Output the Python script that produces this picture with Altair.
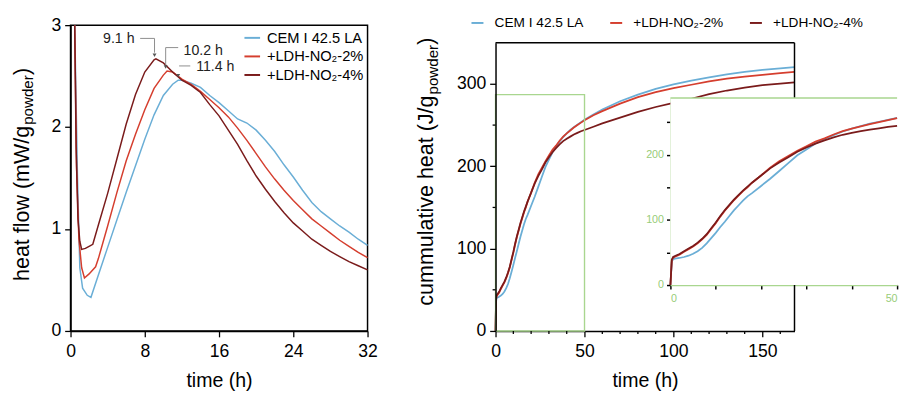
import altair as alt
import pandas as pd

# ---------------- series ----------------
S_CEM = "CEM I 42.5 LA"
S_2 = "+LDH-NO\u2082-2%"
S_4 = "+LDH-NO\u2082-4%"
series_names = [S_CEM, S_2, S_4]
series_colors = ["#6aaed6", "#d53e2e", "#7a1b1b"]
GREEN = "#a9d68f"
GREEN_TXT = "#98cc78"

# ---------------- left panel: heat flow (mW/g) vs time (h) ----------------
hf_t_cem = [0.45, 0.75, 1.0, 1.3, 1.8, 2.2, 3, 4, 5, 6, 7, 8, 9, 10, 11, 11.6, 12, 13, 14, 15, 16,
            17, 18, 19, 20, 21, 22, 23, 24, 25, 26, 27, 28, 29, 30, 31, 32]
hf_v_cem = [3.0, 1.5, 0.62, 0.42, 0.35, 0.33, 0.55, 0.82, 1.09, 1.36, 1.62, 1.88, 2.12, 2.31, 2.42,
            2.46, 2.46, 2.43, 2.39, 2.31, 2.24, 2.16, 2.08, 2.04, 1.97, 1.87, 1.76, 1.63, 1.51, 1.38,
            1.26, 1.17, 1.10, 1.03, 0.97, 0.90, 0.84]
hf_t_2 = [0.45, 0.65, 0.9, 1.2, 1.5, 2.0, 2.7, 3, 4, 5, 6, 7, 8, 9, 10, 10.4, 11, 12, 13, 14, 15, 16,
          17, 18, 19, 20, 21, 22, 23, 24, 25, 26, 27, 28, 29, 30, 31, 32]
hf_v_2 = [3.0, 1.6, 0.9, 0.62, 0.52, 0.56, 0.63, 0.71, 1.03, 1.36, 1.67, 1.93, 2.17, 2.38, 2.51, 2.55,
          2.54, 2.47, 2.42, 2.35, 2.27, 2.19, 2.10, 1.99, 1.87, 1.74, 1.61, 1.49, 1.38, 1.28, 1.19,
          1.10, 1.03, 0.96, 0.89, 0.83, 0.77, 0.72]
hf_t_4 = [0.45, 0.6, 0.8, 1.0, 1.2, 1.6, 2.0, 2.4, 3, 4, 5, 6, 7, 8, 9, 9.2, 10, 11, 12, 13, 14, 15,
          16, 17, 18, 19, 20, 21, 22, 23, 24, 25, 26, 27, 28, 29, 30, 31, 32]
hf_v_4 = [3.0, 1.8, 1.1, 0.88, 0.80, 0.81, 0.83, 0.85, 1.04, 1.35, 1.69, 2.03, 2.32, 2.54, 2.66, 2.67,
          2.63, 2.54, 2.46, 2.41, 2.34, 2.22, 2.11, 1.97, 1.83, 1.67, 1.52, 1.39, 1.27, 1.16, 1.06,
          0.98, 0.90, 0.84, 0.78, 0.73, 0.68, 0.64, 0.60]

# peak annotations
ann_labels = ["9.1 h", "10.2 h", "11.4 h"]
ann_label_t = [5.2, 14.3, 15.6]
ann_label_v = [2.86, 2.745, 2.585]
ann_seg_t1 = [7.5, 9.05, 10.25, 10.25, 11.7]
ann_seg_t2 = [9.05, 9.05, 11.6, 10.25, 12.9]
ann_seg_v1 = [2.87, 2.87, 2.78, 2.78, 2.60]
ann_seg_v2 = [2.87, 2.73, 2.78, 2.61, 2.60]
ann_tip_t = [9.05, 10.25, 11.6]
ann_tip_v = [2.705, 2.59, 2.505]

# ---------------- right panel: cumulative heat (J/g) vs time (h) ----------------
ch_t = [0, 0.3, 0.6, 1, 2, 3, 4, 5, 6, 7, 8, 9, 10, 11, 12, 13, 14, 15, 16, 17, 18, 20, 22, 24, 26,
        28, 30, 32, 34, 36, 38, 40, 42, 44, 46, 48, 50, 55, 60, 70, 80, 90, 100, 110, 120, 130, 140,
        150, 160, 168]
ch_cem = [0, 36, 39.5, 40.5, 41.5, 43, 45, 48, 52, 57, 64, 72, 80, 89, 97, 106, 114.5, 122, 129.5,
          136, 141, 152, 163, 175, 187, 199, 208, 217, 224, 230, 235.5, 240, 244, 247.5, 250.5,
          253.5, 256.5, 263, 269, 279, 287, 294, 299.5, 304, 308, 311.5, 314.5, 317, 319, 320.5]
ch_2 = [0, 38, 42, 43.5, 46.5, 51, 55, 59, 64, 70, 77, 86, 95, 105, 114, 122, 130, 137, 144, 150, 157,
        168, 180, 190, 198, 206, 213, 220, 225, 231, 236, 240, 243.5, 247, 250, 253, 256, 262, 267,
        276, 284, 290, 295, 299, 303, 306.5, 309, 311, 313, 314.5]
ch_4 = [0, 39, 43, 44.5, 47.5, 52, 56, 60, 65, 71, 78, 87, 96, 106, 115, 123, 131, 138, 145, 151, 157,
        168, 179, 188, 196, 204.5, 211, 217, 222, 226.5, 230.5, 233.5, 236, 238.5, 240.5, 242.5, 244,
        248, 252, 259, 266, 272, 277, 282, 287.5, 292, 295.5, 298.5, 300.5, 302]

main_x_labels = [0, 50, 100, 150]
main_x_minor = [10, 20, 30, 40, 60, 70, 80, 90, 110, 120, 130, 140, 160]
main_y_labels = [0, 100, 200, 300]
main_y_minor = [50, 150, 250]

zoom_box_t = [0, 50]      # zoomed region (h)
zoom_box_v = [0, 287]     # zoomed region (J/g)
main_t_max = 168
main_v_max = 350

# ---------------- tables ----------------
hf_df = pd.concat([
    pd.DataFrame({"t": hf_t_cem, "v": hf_v_cem, "s": S_CEM}),
    pd.DataFrame({"t": hf_t_2, "v": hf_v_2, "s": S_2}),
    pd.DataFrame({"t": hf_t_4, "v": hf_v_4, "s": S_4}),
], ignore_index=True)
ch_df = pd.concat([
    pd.DataFrame({"t": ch_t, "v": ch_cem, "s": S_CEM}),
    pd.DataFrame({"t": ch_t, "v": ch_2, "s": S_2}),
    pd.DataFrame({"t": ch_t, "v": ch_4, "s": S_4}),
], ignore_index=True)
ann_text_df = pd.DataFrame({"t": ann_label_t, "v": ann_label_v, "lab": ann_labels})
ann_seg_df = pd.DataFrame({"t": ann_seg_t1, "t2": ann_seg_t2, "v": ann_seg_v1, "v2": ann_seg_v2})
ann_tip_df = pd.DataFrame({"t": ann_tip_t, "v": ann_tip_v})
box_df = pd.DataFrame({"t": [zoom_box_t[0]], "t2": [zoom_box_t[1]],
                       "v": [zoom_box_v[0]], "v2": [zoom_box_v[1]]})
top_df = pd.DataFrame({"t": [0], "t2": [main_t_max], "v": [main_v_max]})
right_df = pd.DataFrame({"t": [main_t_max], "v": [0], "v2": [main_v_max]})
inset_top_df = pd.DataFrame({"t": [zoom_box_t[0]], "t2": [zoom_box_t[1]], "v": [zoom_box_v[1]]})
xminor_df = pd.DataFrame({"t": main_x_minor})
yminor_df = pd.DataFrame({"v": main_y_minor})
one = pd.DataFrame({"a": [0]})


def cond(test, major, minor):
    return {"condition": {"test": test, "value": major}, "value": minor}


def y_title(main_text, x_px, p_px):
    base = alt.Chart(one)
    t1 = base.mark_text(text=main_text, angle=270, align="right", baseline="alphabetic",
                        fontSize=22, color="black").encode(x=alt.value(x_px), y=alt.value(p_px))
    t2 = base.mark_text(text="powder", angle=270, align="left", baseline="alphabetic",
                        fontSize=15.5, dx=1, dy=5, color="black").encode(x=alt.value(x_px), y=alt.value(p_px))
    t3 = base.mark_text(text=")", angle=270, align="left", baseline="alphabetic",
                        fontSize=22, dx=52, color="black").encode(x=alt.value(x_px), y=alt.value(p_px))
    return [t1, t2, t3]


H = 313  # common plot height

# ---------------- left chart ----------------
W1 = 304
xL = alt.X("t:Q", scale=alt.Scale(domain=[0, 32], nice=False),
           axis=alt.Axis(values=list(range(0, 33)), title="time (h)", format="d",
                         labelExpr="datum.value % 8 === 0 ? datum.label : ''",
                         tickSize=cond("datum.value % 8 === 0", 6, 3), labelFlush=False,
                         labelOverlap=False, labelPadding=6, titlePadding=11))
yL = alt.Y("v:Q", scale=alt.Scale(domain=[0, 3], nice=False),
           axis=alt.Axis(values=[0, 0.5, 1, 1.5, 2, 2.5, 3], title=None, format="d",
                         labelExpr="datum.value % 1 === 0 ? datum.label : ''",
                         tickSize=cond("datum.value % 1 === 0", 6, 3), labelOverlap=False,
                         labelPadding=4))
colorL = alt.Color("s:N", scale=alt.Scale(domain=series_names, range=series_colors),
                   legend=alt.Legend(orient="top-right", offset=4, title=None, symbolType="stroke",
                                     symbolSize=256, symbolStrokeWidth=2, labelFontSize=15,
                                     rowPadding=2, labelOffset=6, padding=0))

lines_left = alt.Chart(hf_df).mark_line(strokeWidth=1.5).encode(x=xL, y=yL, color=colorL)
segs = alt.Chart(ann_seg_df).mark_rule(color="#8c8c8c", strokeWidth=1).encode(
    x="t:Q", x2="t2:Q", y="v:Q", y2="v2:Q")
tips = alt.Chart(ann_tip_df).mark_point(shape="triangle-down", filled=True, size=16,
                                        color="#555555", opacity=1).encode(x="t:Q", y="v:Q")
ann_txt = alt.Chart(ann_text_df).mark_text(fontSize=14.5, color="#222222").encode(
    x="t:Q", y="v:Q", text="lab:N")

left = alt.layer(lines_left, segs, tips, ann_txt,
                 *y_title("heat flow (mW/g", -43, 103)).properties(
    width=W1, height=H, view=alt.ViewBackground(stroke="black", strokeWidth=1.5))

# ---------------- right chart ----------------
W2 = 306
TOP2 = 18  # the right frame starts a little lower than the left one
xR = alt.X("t:Q", scale=alt.Scale(domain=[0, main_t_max], nice=False),
           axis=alt.Axis(values=main_x_labels, title="time (h)", format="d", tickSize=6,
                         labelFlush=False, labelOverlap=False, labelBound=False,
                         labelPadding=6, titlePadding=11))
yR = alt.Y("v:Q", scale=alt.Scale(domain=[0, main_v_max], range=[H, TOP2], nice=False),
           axis=alt.Axis(values=main_y_labels, title=None, format="d", tickSize=6,
                         labelOverlap=False, labelBound=False, labelFlush=False,
                         labelPadding=4, zindex=1))
colorR = alt.Color("s:N", scale=alt.Scale(domain=series_names, range=series_colors),
                   legend=alt.Legend(orient="none", legendX=-26, legendY=-10, direction="horizontal",
                                     title=None, symbolType="stroke", symbolSize=150,
                                     symbolStrokeWidth=2, labelFontSize=14, columnPadding=22,
                                     labelOffset=10, padding=0))

lines_main = alt.Chart(ch_df).mark_line(strokeWidth=1.8).encode(x=xR, y=yR, color=colorR)
green_box = alt.Chart(box_df).mark_rect(fill="transparent", stroke=GREEN, strokeWidth=1.4).encode(
    x="t:Q", x2="t2:Q", y="v:Q", y2="v2:Q")
frame_top = alt.Chart(top_df).mark_rule(color="black", strokeWidth=1.5).encode(
    x="t:Q", x2="t2:Q", y="v:Q")
frame_right = alt.Chart(right_df).mark_rule(color="black", strokeWidth=1.5).encode(
    x="t:Q", y="v:Q", y2="v2:Q")
x_minor = alt.Chart(xminor_df).mark_rule(color="black", strokeWidth=1.3).encode(
    x="t:Q", y=alt.value(H), y2=alt.value(H + 3))
y_minor = alt.Chart(yminor_df).mark_rule(color="black", strokeWidth=1.3).encode(
    y="v:Q", x=alt.value(0), x2=alt.value(-3))
main_layer = alt.layer(lines_main, green_box, frame_top, frame_right, x_minor, y_minor,
                       *y_title("cummulative heat (J/g", -64, 72))

# inset (zoom of first 50 h)
INS_X0, INS_X1 = 179, 411
INS_Y0, INS_Y1 = 266, 74.5
xI_scale = alt.Scale(domain=zoom_box_t, range=[INS_X0, INS_X1], nice=False)
yI_scale = alt.Scale(domain=zoom_box_v, range=[INS_Y0, INS_Y1], nice=False)
xI_axis = alt.Axis(orient="bottom", offset=-(H - INS_Y0), values=list(range(0, 51, 10)), title=None,
                   format="d", labelExpr="datum.value % 50 === 0 ? datum.label : ''", tickSize=4,
                   domainColor=GREEN, domainWidth=1.4, labelColor=GREEN_TXT, labelFontSize=11,
                   labelFlush=True, labelOverlap=False, labelPadding=4, tickColor="black",
                   tickWidth=1.5)
yI_axis = alt.Axis(orient="left", offset=-INS_X0, values=list(range(0, 251, 50)), title=None,
                   format="d", labelExpr="datum.value % 100 === 0 ? datum.label : ''", tickSize=4,
                   domainColor=GREEN, domainWidth=1.4, labelColor=GREEN_TXT, labelFontSize=11,
                   labelOverlap=False, labelPadding=3, tickColor="black", tickWidth=1.5)

inset_bg = alt.Chart(box_df).mark_rect(fill="white", strokeWidth=0).encode(
    x=alt.X("t:Q", scale=xI_scale, axis=xI_axis), x2="t2:Q",
    y=alt.Y("v:Q", scale=yI_scale, axis=yI_axis), y2="v2:Q")
inset_top = alt.Chart(inset_top_df).mark_rule(color=GREEN, strokeWidth=1.4).encode(
    x=alt.X("t:Q", scale=xI_scale, axis=xI_axis), x2="t2:Q",
    y=alt.Y("v:Q", scale=yI_scale, axis=yI_axis))
inset_lines = alt.Chart(ch_df).transform_filter(f"datum.t <= {zoom_box_t[1]}").mark_line(
    strokeWidth=1.8).encode(
    x=alt.X("t:Q", scale=xI_scale, axis=xI_axis),
    y=alt.Y("v:Q", scale=yI_scale, axis=yI_axis),
    color=colorR)
inset_layer = alt.layer(inset_bg, inset_top, inset_lines)

right = alt.layer(main_layer, inset_layer).resolve_scale(
    x="independent", y="independent").properties(width=W2, height=H)

chart = alt.hconcat(left, right, spacing=38).resolve_scale(color="independent").resolve_legend(
    color="independent").properties(
    padding={"left": 2, "top": 3, "right": 0, "bottom": 0}
).configure(font="Liberation Sans").configure_view(strokeWidth=0).configure_axis(
    labelFontSize=18, titleFontSize=20, domainColor="black", domainWidth=1.5,
    tickColor="black", tickWidth=1.3, grid=False, labelColor="black", titleColor="black",
    titleFontWeight="normal", labelOverlap=False
).configure_legend(labelColor="black")

chart.save("out.html", embed_options={"renderer": "svg", "actions": False})
